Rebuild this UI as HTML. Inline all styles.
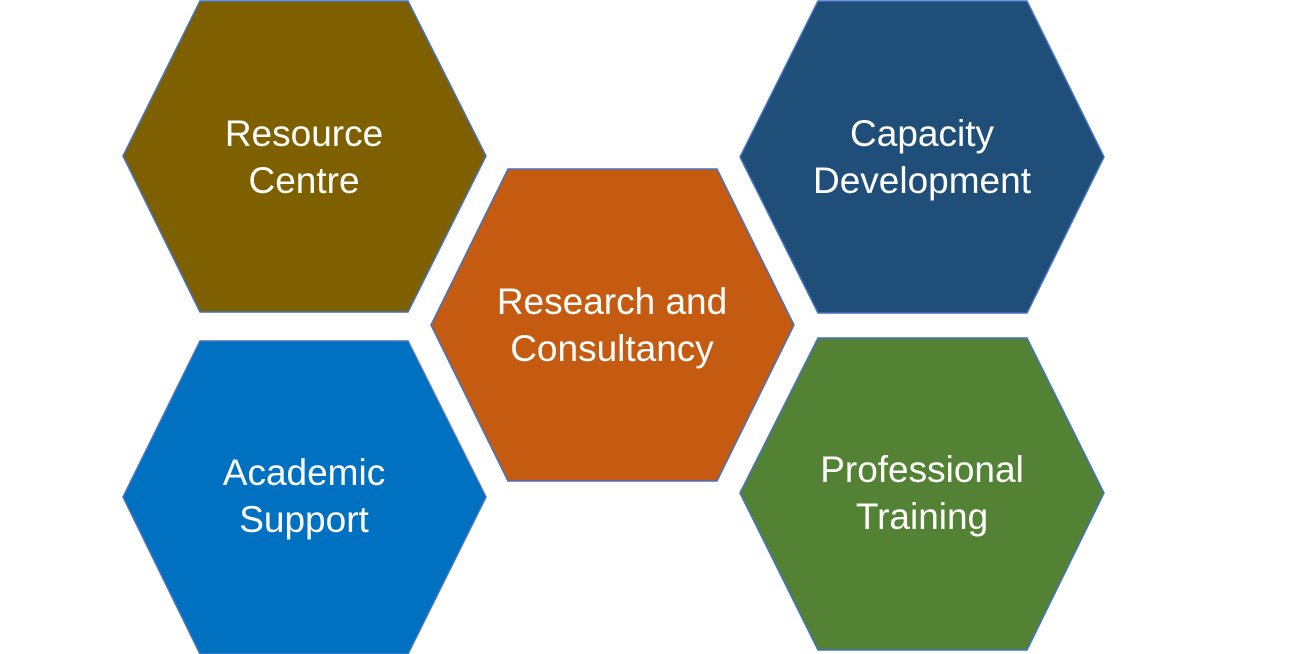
<!DOCTYPE html>
<html><head><style>
html,body{margin:0;padding:0;background:#fff;width:1296px;height:654px;overflow:hidden}
svg text{font-family:"Liberation Sans",sans-serif;font-size:37px;fill:#fff;text-anchor:middle}
</style></head><body>
<svg width="1296" height="654" viewBox="0 0 1296 654" xmlns="http://www.w3.org/2000/svg">
<g stroke="#4472C4" stroke-width="1.5">
<polygon points="200,1 408,1 486,156 408,312 200,312 123,156" fill="#7F6000"/>
<polygon points="200,341 408,341 486,497 408,654 200,654 123,497" fill="#0070C0"/>
<polygon points="508,169 717,169 794,325 717,481 508,481 431,325" fill="#C55A11"/>
<polygon points="818,1 1027,1 1104,157 1027,313 818,313 740,157" fill="#1F4E79"/>
<polygon points="818,338 1027,338 1104,493 1027,650 818,650 740,493" fill="#548235"/>
</g>
<text x="304" y="146">Resource</text>
<text x="304" y="193">Centre</text>
<text x="304" y="485">Academic</text>
<text x="304" y="532">Support</text>
<text x="612" y="314">Research and</text>
<text x="612" y="361">Consultancy</text>
<text x="922" y="146">Capacity</text>
<text x="922" y="193">Development</text>
<text x="922" y="482">Professional</text>
<text x="922" y="529">Training</text>
</svg>
</body></html>
